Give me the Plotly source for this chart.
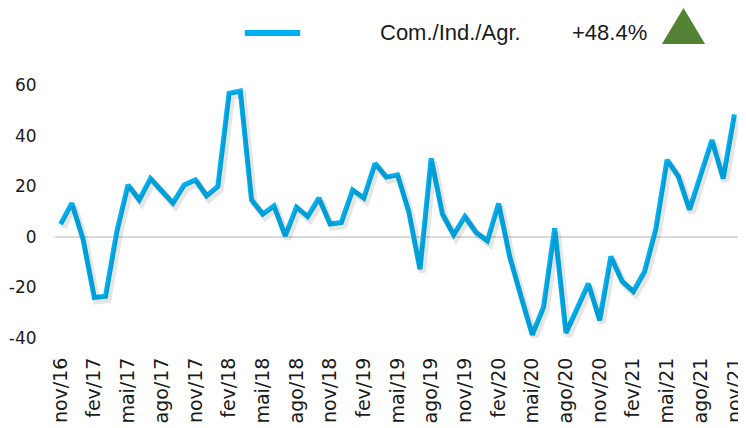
import plotly.graph_objects as go

LINE_BLUE = "#00B0F0"
UP_GREEN = "#548235"
ZERO_GREY = "#D9D9D9"
SHADOW = "rgba(0,0,0,0.10)"
TEXT = "#1a1a1a"

months = [
    "nov/16", "dez/16", "jan/17", "fev/17", "mar/17", "abr/17", "mai/17", "jun/17",
    "jul/17", "ago/17", "set/17", "out/17", "nov/17", "dez/17", "jan/18", "fev/18",
    "mar/18", "abr/18", "mai/18", "jun/18", "jul/18", "ago/18", "set/18", "out/18",
    "nov/18", "dez/18", "jan/19", "fev/19", "mar/19", "abr/19", "mai/19", "jun/19",
    "jul/19", "ago/19", "set/19", "out/19", "nov/19", "dez/19", "jan/20", "fev/20",
    "mar/20", "abr/20", "mai/20", "jun/20", "jul/20", "ago/20", "set/20", "out/20",
    "nov/20", "dez/20", "jan/21", "fev/21", "mar/21", "abr/21", "mai/21", "jun/21",
    "jul/21", "ago/21", "set/21", "out/21", "nov/21",
]

com_ind_agr = [
    5.0, 13.3, -1.0, -24.0, -23.5, 2.0, 20.5, 14.6, 23.0, 18.3, 13.3, 20.5,
    22.5, 16.2, 19.9, 56.7, 57.6, 14.6, 9.0, 12.2, 0.4, 11.7, 8.0, 15.3,
    5.1, 5.7, 18.5, 15.3, 29.0, 23.6, 24.5, 10.0, -12.8, 31.0, 9.0, 0.8,
    8.0, 1.7, -1.6, 13.2, -8.0, -23.6, -38.7, -27.8, 3.4, -38.0, -28.0, -18.5,
    -33.0, -7.8, -17.6, -21.6, -13.7, 3.0, 30.4, 24.0, 10.7, 25.0, 38.3, 23.0,
    48.4,
]

tick_labels = months[::3]
y_ticks = [-40, -20, 0, 20, 40, 60]
y_tick_labels = ["-40", "-20", "0", "20", "40", "60"]
series_name = "Com./Ind./Agr."
change_text = "+48.4%"

x_idx = list(range(len(months)))

fig = go.Figure()
# soft drop shadow, drawn on a slightly shifted twin axis pair
fig.add_trace(go.Scatter(x=x_idx, y=com_ind_agr, mode="lines", xaxis="x2", yaxis="y2",
                         line=dict(color=SHADOW, width=7), hoverinfo="skip",
                         showlegend=False))
fig.add_trace(go.Scatter(x=x_idx, y=com_ind_agr, mode="lines", name=series_name,
                         line=dict(color=LINE_BLUE, width=5), showlegend=False))

xr = [-0.5, len(months) - 0.5]
yr = [-40, 60]
# page body has an 8px margin, so the figure is 8px smaller than the window
fig.update_layout(
    width=738, height=420,
    paper_bgcolor="white", plot_bgcolor="white",
    margin=dict(l=47, r=6, t=77, b=90),
    font=dict(family="DejaVu Sans", size=18, color=TEXT),
    xaxis=dict(range=xr, tickmode="array", tickvals=x_idx[::3], ticktext=tick_labels,
               tickangle=-90, showgrid=False, zeroline=False, showline=False,
               ticks="outside", ticklen=11, tickcolor="rgba(0,0,0,0)",
               tickfont=dict(size=19), automargin=False),
    yaxis=dict(range=yr, tickmode="array", tickvals=y_ticks, ticktext=y_tick_labels,
               showgrid=False, zeroline=True,
               zerolinecolor=ZERO_GREY, zerolinewidth=2, showline=False,
               ticks="outside", ticklen=14, tickcolor="rgba(0,0,0,0)",
               tickfont=dict(size=17), automargin=False),
    xaxis2=dict(range=[xr[0] - 0.22, xr[1] - 0.22], overlaying="x", visible=False),
    yaxis2=dict(range=[yr[0] + 1.3, yr[1] + 1.3], overlaying="y", visible=False),
)

# legend drawn by hand: line sample, name, change and up-arrow
fig.add_shape(type="line", xref="paper", yref="paper", x0=0.277, x1=0.358,
              y0=1.206, y1=1.206, line=dict(color=LINE_BLUE, width=6))
fig.add_annotation(xref="paper", yref="paper", x=0.577, y=1.206, text=series_name,
                   xanchor="center", yanchor="middle", showarrow=False,
                   font=dict(family="Liberation Sans", size=22, color=TEXT))
fig.add_annotation(xref="paper", yref="paper", x=0.809, y=1.206, text=change_text,
                   xanchor="center", yanchor="middle", showarrow=False,
                   font=dict(family="Liberation Sans", size=22, color=TEXT))
fig.add_shape(type="path", xref="paper", yref="paper",
              path="M 0.886 1.162 L 0.949 1.162 L 0.9175 1.304 Z",
              fillcolor=UP_GREEN, line=dict(color=UP_GREEN, width=0))

fig.write_html("out.html")
